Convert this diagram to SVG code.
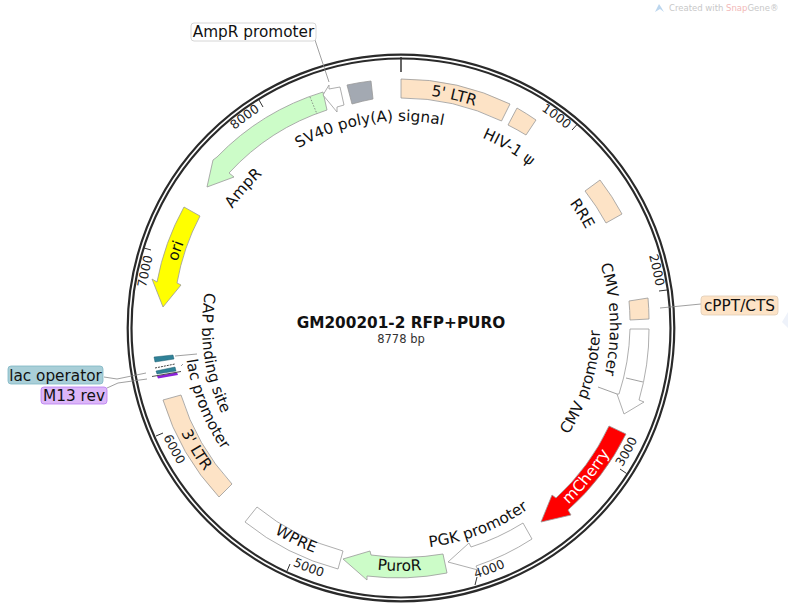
<svg xmlns="http://www.w3.org/2000/svg" xmlns:xlink="http://www.w3.org/1999/xlink" width="788" height="614" viewBox="0 0 788 614">
<style>
text{font-family:"DejaVu Sans","Liberation Sans",sans-serif;fill:#111;font-size:15.3px;stroke:none}
.f{stroke:#999;stroke-width:.8}
.ltr{fill:#fde3c6}
.grn{fill:#ccfcc8}
.wht{fill:#fff}
.m{text-anchor:middle}
.e{text-anchor:end}
.t{font-size:12.5px;fill:#222}
.ln{fill:none;stroke:#888;stroke-width:.8}
</style>
<defs>
<path id="c233" d="M401,560A233,233 0 0 1 401,94A233,233 0 0 1 401,560"/>
<path id="c206" d="M401,533A206,206 0 0 1 401,121A206,206 0 0 1 401,533"/>
<path id="c209" d="M401,536A209,209 0 0 1 401,118A209,209 0 0 1 401,536"/>
<path id="c258" d="M401,585A258,258 0 0 1 401,69A258,258 0 0 1 401,585"/>
<path id="a244" d="M401,83A244,244 0 0 0 401,571A244,244 0 0 0 401,83"/>
<path id="a242" d="M401,85A242,242 0 0 0 401,569A242,242 0 0 0 401,85"/>
<path id="a199" d="M401,128A199,199 0 0 0 401,526A199,199 0 0 0 401,128"/>
<path id="a217" d="M401,110A217,217 0 0 0 401,544A217,217 0 0 0 401,110"/>
<path id="a222" d="M401,105A222,222 0 0 0 401,549A222,222 0 0 0 401,105"/>
<path id="a262" d="M401,65A262,262 0 0 0 401,589A262,262 0 0 0 401,65"/>
</defs>
<g id="watermark">
<path d="M655,12L659,4L661,7L664,12L660,9Z" fill="#bcd6ee"/>
<text x="669" y="11" style="font-size:8.5px;fill:#c8c8c8">Created with <tspan fill="#f2b8b8">Snap</tspan>Gene®</text>
<path d="M782,322L788,312V328Z" fill="#eef2fa"/>
</g>
<g id="backbone" fill="none" stroke="#2a2a2a" stroke-width="2.2">
<circle cx="401" cy="328" r="273.3"/>
<circle cx="401" cy="328" r="269.5"/>
</g>
<g id="ticks" stroke="#333" stroke-width="1">
<line x1="401" y1="57" x2="401" y2="72" stroke-width="1.5"/>
<line x1="577.5" y1="124" x2="572" y2="130"/>
<line x1="667" y1="290" x2="659" y2="291"/>
<line x1="626.6" y1="473.5" x2="620" y2="469"/>
<line x1="475" y1="585" x2="477" y2="577"/>
<line x1="287" y1="571" x2="290" y2="564"/>
<line x1="156" y1="436" x2="163" y2="433"/>
<line x1="144" y1="248" x2="151" y2="250"/>
<line x1="259" y1="100" x2="263" y2="107"/>
<text class="t e"><textPath href="#c258" startOffset="61.1%">1000</textPath></text>
<text class="t e"><textPath href="#c258" startOffset="72.5%">2000</textPath></text>
<text class="t"><textPath href="#a262" startOffset="66%">3000</textPath></text>
<text class="t"><textPath href="#a262" startOffset="54.6%">4000</textPath></text>
<text class="t"><textPath href="#a262" startOffset="43.2%">5000</textPath></text>
<text class="t"><textPath href="#a262" startOffset="31.9%">6000</textPath></text>
<text class="t e"><textPath href="#c258" startOffset="29.4%">7000</textPath></text>
<text class="t e"><textPath href="#c258" startOffset="40.8%">8000</textPath></text>
</g>
<g id="connectors">
<path class="ln" d="M315,40L329,82"/>
<path class="ln" d="M660,308L701,304"/>
<path class="ln" d="M598,387L617,394"/>
<path class="ln" d="M104,377L117,379L146,373"/>
<path class="ln" d="M107,388L118,383L147,379"/>
<path class="ln" d="M175,356L197,354"/>
<path class="ln" d="M181,366L183,364"/>
</g>
<g id="ltr5">
<path class="f ltr" d="M401,79A248,248 0 0 1 510,104L501.5,121A229,229 0 0 0 401,98Z"/>
<text class="m"><textPath href="#c233" startOffset="53.6%">5' LTR</textPath></text>
</g>
<g id="hiv">
<path class="f ltr" d="M517,108A248,248 0 0 1 536,120L526,135A229,229 0 0 0 508,125Z"/>
<text class="m"><textPath href="#c206" startOffset="58.6%">HIV-1 ψ</textPath></text>
</g>
<g id="rre">
<path class="f ltr" d="M600,180A248,248 0 0 1 622,214L606,223A229,229 0 0 0 585,191Z"/>
<text class="m"><textPath href="#c209" startOffset="66.1%">RRE</textPath></text>
</g>
<g id="cppt">
<path class="f ltr" d="M629,301L648,298A248,248 0 0 1 649,319L630,320A229,229 0 0 0 629,301Z"/>
<rect x="701" y="296" width="77" height="19" rx="3" fill="#fde3c6" stroke="#e0cdb6" stroke-width=".8"/>
<text x="739.5" y="311" class="m">cPPT/CTS</text>
</g>
<g id="cmv">
<path class="f wht" d="M630,329L649,329A248,248 0 0 1 639,400L644,402L624,414L617,394L619,394A229,229 0 0 0 630,329Z"/>
<path class="ln" d="M626,378L643,382"/>
<text class="m"><textPath href="#c209" startOffset="74.4%">CMV enhancer</textPath></text>
<text class="m"><textPath href="#a199" startOffset="70.3%">CMV promoter</textPath></text>
</g>
<g id="mcherry">
<path class="f" fill="#f00" d="M609,426L626,434A248,248 0 0 1 568,510L571,515L541,522L552,495L556,498A230,230 0 0 0 609,426Z"/>
<text class="m" style="fill:#fff"><textPath href="#a244" startOffset="64.2%">mCherry</textPath></text>
</g>
<g id="pgk">
<path class="f wht" d="M523,523L532,539A248,248 0 0 1 476,566L478,570L448,562L469,543L471,547A230,230 0 0 0 523,523Z"/>
<text class="m"><textPath href="#a222" startOffset="55.9%">PGK promoter</textPath></text>
</g>
<g id="puro">
<path class="f grn" d="M443,554L447,573A249,249 0 0 1 367,576L367,580L343,559L370,551L371,555A230,230 0 0 0 443,554Z"/>
<text class="m"><textPath href="#a244" startOffset="49.9%">PuroR</textPath></text>
</g>
<g id="wpre">
<path class="f wht" d="M257,507A230,230 0 0 0 343,551L338,569A249,249 0 0 1 245,522Z"/>
<text class="m"><textPath href="#a242" startOffset="42.7%">WPRE</textPath></text>
</g>
<g id="ltr3">
<path class="f ltr" d="M163,400L181,395A230,230 0 0 0 232,484L219,497A249,249 0 0 1 163,400Z"/>
<text class="m"><textPath href="#a244" startOffset="33.6%">3' LTR</textPath></text>
</g>
<g id="cap">
<path d="M154,357L173,355L174,359L155,362Z" fill="#2f8197" stroke="#1d5f70" stroke-width=".5"/>
<text class="m"><textPath href="#a199" startOffset="27.2%">CAP binding site</textPath></text>
</g>
<g id="lacp">
<path d="M155,368L175,364" stroke="#444" stroke-width="1" stroke-dasharray="2 1" fill="none"/>
<text class="m"><textPath href="#a217" startOffset="31%">lac promoter</textPath></text>
</g>
<g id="lacop">
<path d="M156,371L175,367L176,371L157,374Z" fill="#2f8197" stroke="#1d5f70" stroke-width=".5"/>
<rect x="8" y="366" width="95" height="18" rx="3" fill="#a9cfd8" stroke="#7fb6c4" stroke-width=".8"/>
<text x="55.5" y="380.5" class="m">lac operator</text>
</g>
<g id="m13">
<path d="M157,376L177,372.5L178,375L158,378.5Z" fill="#8a22d8"/>
<path d="M152,376.5L181,371.5" stroke="#222" stroke-width=".8" fill="none"/>
<rect x="41" y="387" width="66" height="17" rx="3" fill="#dcb6f8" stroke="#b87cf0" stroke-width=".8"/>
<text x="74" y="401" class="m">M13 rev</text>
</g>
<g id="ori">
<path class="f" fill="#ff0" d="M184,207L200,216A230,230 0 0 0 177,283L181,285L163,307L152,279L157,282A248,248 0 0 1 184,207Z"/>
<text class="m"><textPath href="#c233" startOffset="30.2%">ori</textPath></text>
</g>
<g id="ampr">
<path class="f grn" d="M323,92L327,110A230,230 0 0 0 229,173L234,177L207,187L213,160L217,157A249,249 0 0 1 323,92Z"/>
<path d="M310,97L317,114" stroke="#777" stroke-width=".8" stroke-dasharray="1.5 1.5" fill="none"/>
<text class="m"><textPath href="#c206" startOffset="36.5%">AmpR</textPath></text>
</g>
<g id="amprp">
<path class="f wht" d="M340,87L344,105L337,107L337,112L323,95L329,85L329,89Z"/>
<rect x="191" y="23" width="125" height="18" rx="3" fill="#fff" stroke="#ccc" stroke-width=".8"/>
<text x="253.5" y="37" class="m">AmpR promoter</text>
</g>
<g id="sv40">
<path class="f" fill="#a3a9b2" d="M347,85A248,248 0 0 1 371,81L373,99A229,229 0 0 0 352,104Z"/>
<text class="m"><textPath href="#c206" startOffset="47.5%">SV40 poly(A) signal</textPath></text>
</g>
<g id="title">
<text x="401" y="328" class="m" style="font-size:15.3px;font-weight:bold">GM200201-2 RFP+PURO</text>
<text x="401" y="343" class="m" style="font-size:11.5px;fill:#333">8778 bp</text>
</g>
</svg>
